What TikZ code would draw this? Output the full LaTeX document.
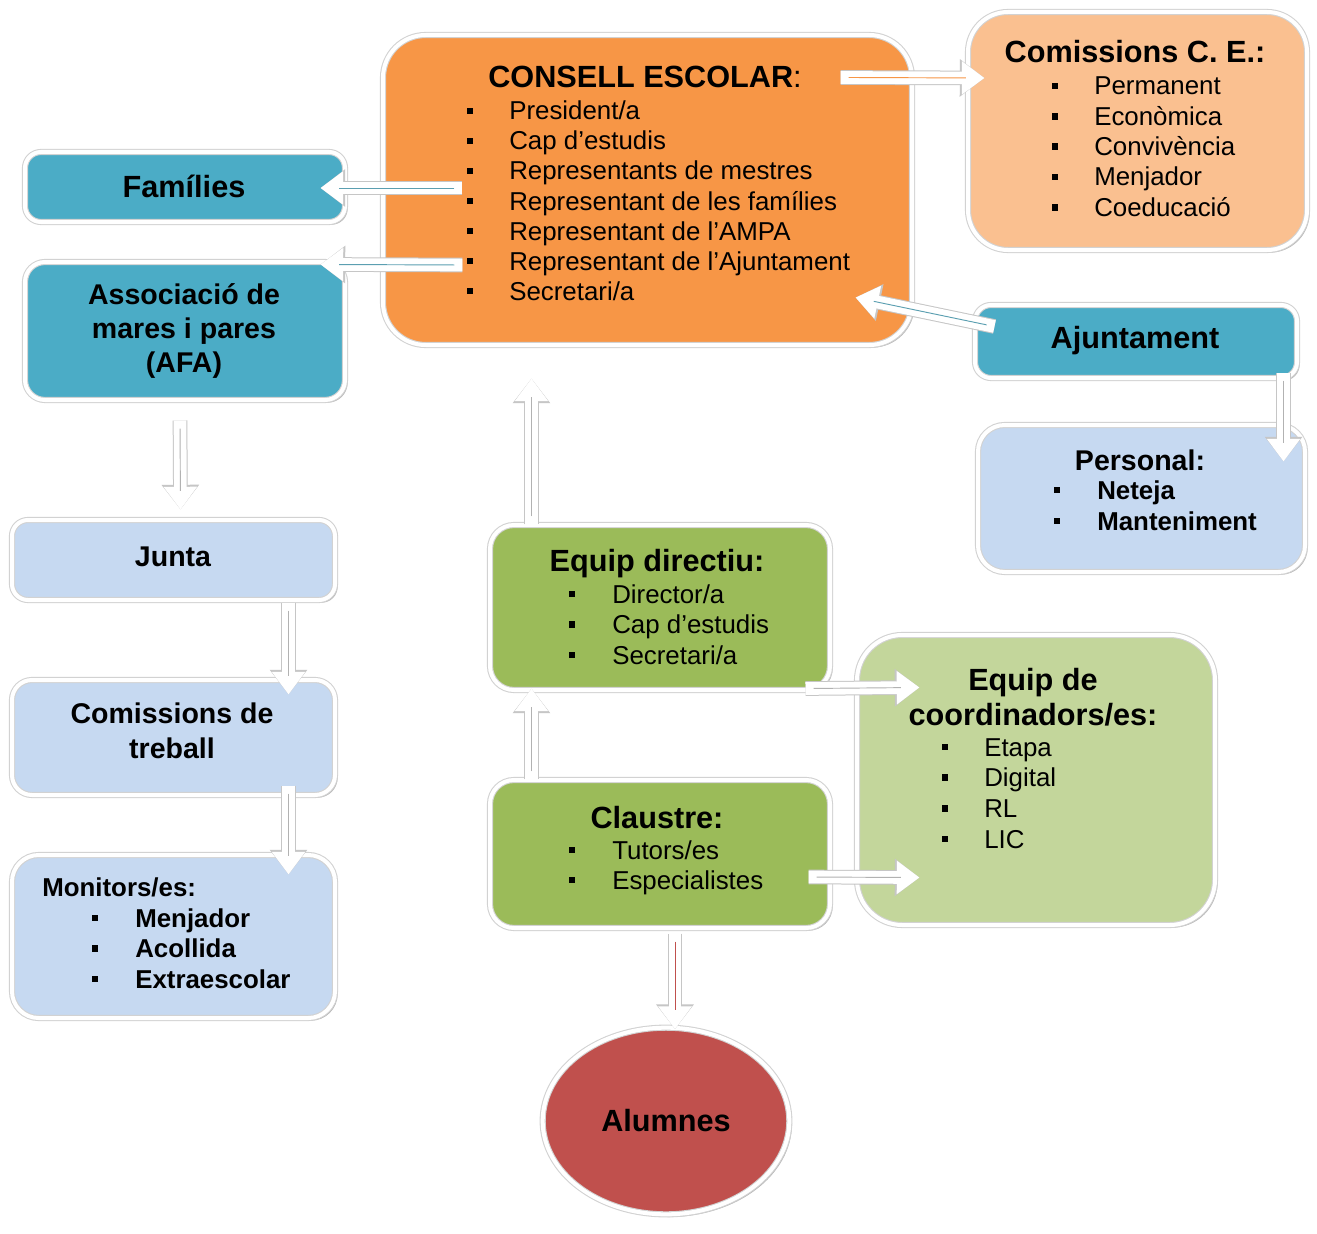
\documentclass[tikz,border=0pt]{standalone}
\usepackage{fontspec}
\setmainfont{Liberation Sans}
\usetikzlibrary{fit,calc,shadows,shapes.geometric,arrows.meta}
\definecolor{cOrange}{HTML}{F79646}
\definecolor{cLOrange}{HTML}{FAC090}
\definecolor{cTeal}{HTML}{4BACC6}
\definecolor{cLBlue}{HTML}{C6D9F1}
\definecolor{cGreen}{HTML}{9BBB59}
\definecolor{cLGreen}{HTML}{C3D69B}
\definecolor{cRed}{HTML}{C0504D}
\newcommand\itemlist[7]{%
  \foreach \itm [count=\i] in {#6} {%
    \node[#7, anchor=base west] (#1-\i) at (#3,{#4+#5*(\i-1)}) {\itm};
    \node[bul] (#1-b\i) at (#2,{#4+#5*(\i-1)-9}) {};
  }}
\tikzset{
  box/.style={draw=gray!35, double=white, double distance=3pt, line width=0.8pt,
    inner sep=0pt, drop shadow={shadow xshift=2pt, shadow yshift=-2pt, opacity=0.4, fill=black!70}},
  ttl/.style={font=\fontsize{23}{27}\selectfont\bfseries, inner sep=0pt},
  sub/.style={font=\fontsize{21.4}{26}\selectfont\bfseries, inner sep=0pt},
  itm/.style={font=\fontsize{19.4}{23}\selectfont, inner sep=0pt},
  itmb/.style={font=\fontsize{19.4}{23}\selectfont\bfseries, inner sep=0pt},
  bul/.style={fill=black, inner sep=0pt, minimum size=5pt},
  barrow/.style={draw=white, line width=9.5pt,
    -{Triangle[length=17pt,width=24pt]},
    preaction={draw=gray!45, line width=11pt, -{Triangle[length=18.5pt,width=27pt]}},
    postaction={draw=#1, line width=0.7pt, arrows=-, shorten >=14pt, shorten <=6pt}},
  barrow/.default=gray!60
}
\begin{document}
\begin{tikzpicture}[x=0.75pt, y=-0.75pt]
\useasboundingbox (0,0) rectangle (1317,1234);
\fill[white] (0,0) rectangle (1317,1234);

% boxes
\node[box, fill=cOrange, rounded corners=32pt, fit={(383,35)(912,345)}] (ce) {};
\node[box, fill=cLOrange, rounded corners=30pt, fit={(968,12)(1307,250)}] (cce) {};
\node[box, fill=cTeal, rounded corners=12pt, fit={(25,152)(345,222)}] (fam) {};
\node[box, fill=cTeal, rounded corners=15pt, fit={(25,262)(345,400)}] (afa) {};
\node[box, fill=cTeal, rounded corners=12pt, fit={(975,305)(1297,378)}] (aj) {};
\node[box, fill=cLBlue, rounded corners=20pt, fit={(978,425)(1305,572)}] (per) {};
\node[box, fill=cLBlue, rounded corners=12pt, fit={(12,520)(335,600)}] (jun) {};
\node[box, fill=cLBlue, rounded corners=15pt, fit={(12,680)(335,795)}] (ct) {};
\node[box, fill=cLBlue, rounded corners=20pt, fit={(12,855)(335,1018)}] (mon) {};
\node[box, fill=cGreen, rounded corners=18pt, fit={(490,525)(830,690)}] (ed) {};
\node[box, fill=cLGreen, rounded corners=34pt, fit={(857,635)(1215,925)}] (co) {};
\node[box, fill=cGreen, rounded corners=18pt, fit={(490,780)(830,928)}] (cl) {};
\node[box, fill=cRed, ellipse, minimum width=185pt, minimum height=140pt] (al) at (666,1121) {};

% texts
\node[ttl, anchor=base] (ceT) at (645,88) {CONSELL ESCOLAR{\mdseries :}};
\itemlist{ce}{470}{509}{120}{30}{President/a,Cap d’estudis,Representants de mestres,Representant de les famílies,Representant de l’AMPA,Representant de l’Ajuntament,Secretari/a}{itm}

\node[ttl, anchor=base] (cceT) at (1135,63) {Comissions C. E.:};
\itemlist{cce}{1055}{1094}{95}{30.3}{Permanent,Econòmica,Convivència,Menjador,Coeducació}{itm}

\node[ttl, anchor=base] (famT) at (184,198) {Famílies};
\node[sub, anchor=base] (afaT1) at (184,304) {Associació de};
\node[sub, anchor=base] (afaT2) at (184,338) {mares i pares};
\node[sub, anchor=base] (afaT3) at (184,372) {(AFA)};
\node[ttl, anchor=base] (ajT) at (1135,348) {Ajuntament};

\node[sub, anchor=base] (perT) at (1140,470) {Personal:};
\itemlist{per}{1057}{1097}{499}{31}{Neteja,Manteniment}{itmb}

\node[sub, anchor=base] (junT) at (173,566) {Junta};
\node[sub, anchor=base] (ctT1) at (172,723) {Comissions de};
\node[sub, anchor=base] (ctT2) at (172,758) {treball};

\node[itmb, anchor=base west] (monT) at (42,896) {Monitors/es:};
\itemlist{mon}{95}{135}{927}{30.5}{Menjador,Acollida,Extraescolar}{itmb}

\node[ttl, anchor=base] (edT) at (657,571) {Equip directiu:};
\itemlist{ed}{572}{612}{603}{30.5}{Director/a,Cap d’estudis,Secretari/a}{itm}

\node[ttl, anchor=base] (coT1) at (1033,690) {Equip de};
\node[ttl, anchor=base] (coT2) at (1033,725) {coordinadors/es:};
\itemlist{co}{945}{984}{756}{30.7}{Etapa,Digital,RL,LIC}{itm}

\node[ttl, anchor=base] (clT) at (657,828) {Claustre:};
\itemlist{cl}{572}{612}{859}{30}{Tutors/es,Especialistes}{itm}

\node[ttl, anchor=base] (alT) at (666,1131) {Alumnes};

% arrows
\draw[barrow=cOrange] ($(ce.north east)+(-72,43)$) -- ($(cce.west)+(17,-53)$);
\draw[barrow=cTeal!70!gray] ($(ce.west)+(80,-2)$) -- ($(fam.east)+(-25,1)$);
\draw[barrow=cTeal!70!gray] ($(ce.west)+(80,75)$) -- ($(afa.north east)+(-25,3)$);
\draw[barrow=cTeal!70!gray] ($(aj.west)+(20,-15)$) -- ($(ce.south east)+(-57,-48)$);
\draw[barrow] ($(aj.south east)+(-14,-6)$) -- ($(per.north east)+(-22,37)$);
\draw[barrow] ($(ed.north west)+(42,0)$) -- ($(ce.south west)+(149,33)$);
\draw[barrow] ($(afa.south)+(-5,20)$) -- ($(jun.north)+(7,-10)$);
\draw[barrow] ($(jun.south east)+(-47,2)$) -- ($(ct.north east)+(-47,15)$);
\draw[barrow] ($(ct.south east)+(-47,-10)$) -- ($(mon.north east)+(-47,20)$);
\draw[barrow] ($(cl.north west)+(42,0)$) -- ($(ed.south west)+(42,-2)$);
\draw[barrow] ($(ed.south east)+(-25,-2)$) -- ($(co.north west)+(63,53)$);
\draw[barrow] ($(cl.east)+(-22,23)$) -- ($(co.south west)+(63,-48)$);
\draw[barrow=cRed] ($(cl.south)+(15,5)$) -- ($(al.north)+(9,2)$);
\end{tikzpicture}
\end{document}
